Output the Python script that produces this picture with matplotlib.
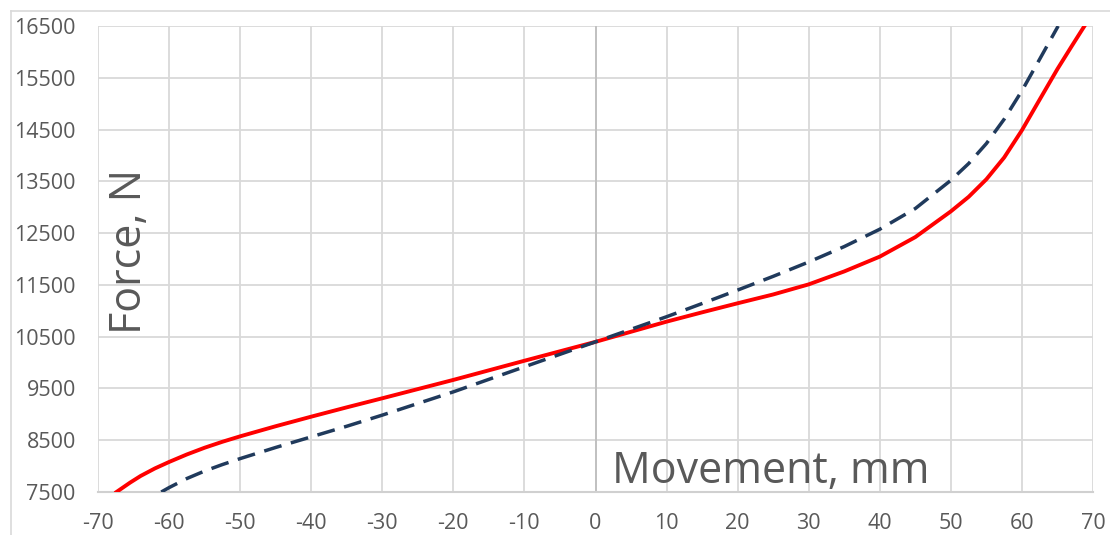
import numpy as np
import matplotlib.pyplot as plt
from matplotlib.lines import Line2D

# red (solid) curve
red_x = [-67.4, -65.5, -64, -62, -60, -57.5, -55, -52.5, -50, -45, -40, -35, -30, -20, -10, 0,
         10, 15, 20, 25, 30, 35, 40, 45, 50, 52.5, 55, 57.5, 60, 62.5, 65, 67, 68.8]
red_f = [7500, 7680, 7810, 7955, 8080, 8225, 8355, 8470, 8575, 8770, 8955, 9135, 9310, 9665, 10035, 10400,
         10790, 10970, 11145, 11315, 11510, 11760, 12046, 12423, 12920, 13200, 13540, 13960,
         14487, 15080, 15670, 16110, 16500]

# dashed curve
dash_x = [-61.1, -60, -57.5, -55, -52.5, -50, -45, -40, -35, -30, -20, -10, 0,
          10, 15, 20, 25, 30, 35, 40, 45, 50, 52.5, 55, 57.5, 60, 62.5, 65.1]
dash_f = [7500, 7585, 7760, 7905, 8030, 8145, 8360, 8565, 8770, 8985, 9434, 9918, 10400,
          10885, 11140, 11400, 11665, 11942, 12240, 12575, 12975, 13520, 13843, 14230, 14700,
          15250, 15860, 16500]

x_ticks = list(range(-70, 71, 10))
y_ticks = list(range(7500, 16501, 1000))

plt.rcParams['font.family'] = ['Open Sans', 'DejaVu Sans']
plt.rcParams['axes.unicode_minus'] = False
txt = '#595959'

fig = plt.figure(figsize=(11.1, 5.35), dpi=100)
ax = fig.add_axes([98 / 1110, 43 / 535, 995 / 1110, 466 / 535])

# outer chart frame (only left and top are inside the picture)
fig.add_artist(Line2D([11 / 1110, 11 / 1110], [0, 1 - 11 / 535], transform=fig.transFigure,
                      color='#D9D9D9', lw=1.2))
fig.add_artist(Line2D([11 / 1110, 1], [1 - 11 / 535, 1 - 11 / 535], transform=fig.transFigure,
                      color='#D9D9D9', lw=1.2))

ax.set_xlim(-70, 70)
ax.set_ylim(7500, 16500)
ax.set_xticks(x_ticks)
ax.set_yticks(y_ticks)
ax.grid(True, color='#D9D9D9', lw=1.3)
ax.set_axisbelow(True)
for s in ['top', 'left', 'right']:
    ax.spines[s].set_visible(False)
ax.spines['bottom'].set_color('#D0D0D0')
ax.spines['bottom'].set_linewidth(1.5)
ax.axvline(0, color='#BFBFBF', lw=1.3, zorder=1)

ax.tick_params(length=0, labelsize=15.5, labelcolor=txt)
ax.tick_params(axis='y', pad=16)
ax.tick_params(axis='x', pad=15)

ax.plot(red_x, red_f, color='#FF0000', lw=2.8, solid_joinstyle='round', zorder=3)
ax.plot(dash_x, dash_f, color='#203A5C', lw=2.5, dashes=(5.2, 2.8), zorder=3)

ax.text(130 / 1110, 1 - 252 / 535, 'Force, N', transform=fig.transFigure, rotation=90,
        fontsize=31, color=txt, ha='center', va='center')
ax.text(612 / 1110, 1 - 483 / 535, 'Movement, mm', transform=fig.transFigure,
        fontsize=31, color=txt, ha='left', va='baseline')

plt.savefig('out.png')
